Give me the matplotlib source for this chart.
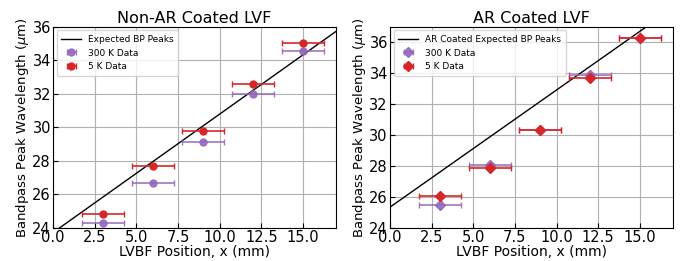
import matplotlib
matplotlib.use("Agg")
import matplotlib.pyplot as plt
import numpy as np

# Non-AR coated LVF
pos = [3, 6, 9, 12, 15]
xerr = [1.25, 1.25, 1.25, 1.25, 1.25]
nonar_300k = [24.3, 26.7, 29.1, 32.0, 34.55]
nonar_5k = [24.8, 27.7, 29.8, 32.6, 35.05]
nonar_fit = [0.707, 23.72]  # slope, intercept of expected peaks

# AR coated LVF
ar_300k = [25.45, 28.05, 30.3, 33.9, 36.25]
ar_5k = [26.05, 27.9, 30.3, 33.7, 36.25]
ar_fit = [0.758, 25.34]

PURPLE = "#9467bd"
RED = "#d62728"


def draw(ax, title, fit, fit_label, d300, d5, marker, ms, ylim):
    xl = np.linspace(0, 17, 50)
    ax.plot(xl, fit[0] * xl + fit[1], color="black", lw=1, label=fit_label)
    ax.errorbar(pos, d300, xerr=xerr, fmt=marker, color=PURPLE, ms=ms,
                capsize=2, elinewidth=1.2, ecolor=PURPLE, alpha=0.9,
                label="300 K Data")
    ax.errorbar(pos, d5, xerr=xerr, fmt=marker, color=RED, ms=ms,
                capsize=2, elinewidth=1.2, ecolor=RED,
                label="5 K Data")
    ax.set_xlim(0, 17)
    ax.set_ylim(*ylim)
    ax.set_xticks([0, 2.5, 5, 7.5, 10, 12.5, 15])
    ax.set_yticks(np.arange(24, 37, 2))
    ax.grid(True, color="#b0b0b0", lw=0.8)
    ax.tick_params(direction="in", labelsize=10.5, pad=1.5)
    ax.set_title(title, fontsize=11.5, pad=3)
    ax.set_xlabel("LVBF Position, x (mm)", fontsize=10, labelpad=0)
    ax.set_ylabel(r"Bandpass Peak Wavelength ($\mu$m)", fontsize=9.5, labelpad=1)
    ax.legend(loc="upper left", fontsize=6.5, borderaxespad=0.4,
              handlelength=2.2, borderpad=0.5)


fig, (ax1, ax2) = plt.subplots(1, 2, figsize=(6.89, 2.61), dpi=100)
draw(ax1, "Non-AR Coated LVF", nonar_fit, "Expected BP Peaks",
     nonar_300k, nonar_5k, "o", 5, (24, 36))
draw(ax2, "AR Coated LVF", ar_fit, "AR Coated Expected BP Peaks",
     ar_300k, ar_5k, "D", 5, (24, 37))
fig.subplots_adjust(left=0.077, right=0.977, top=0.897, bottom=0.127, wspace=0.19)
fig.savefig("out.png", dpi=100)
